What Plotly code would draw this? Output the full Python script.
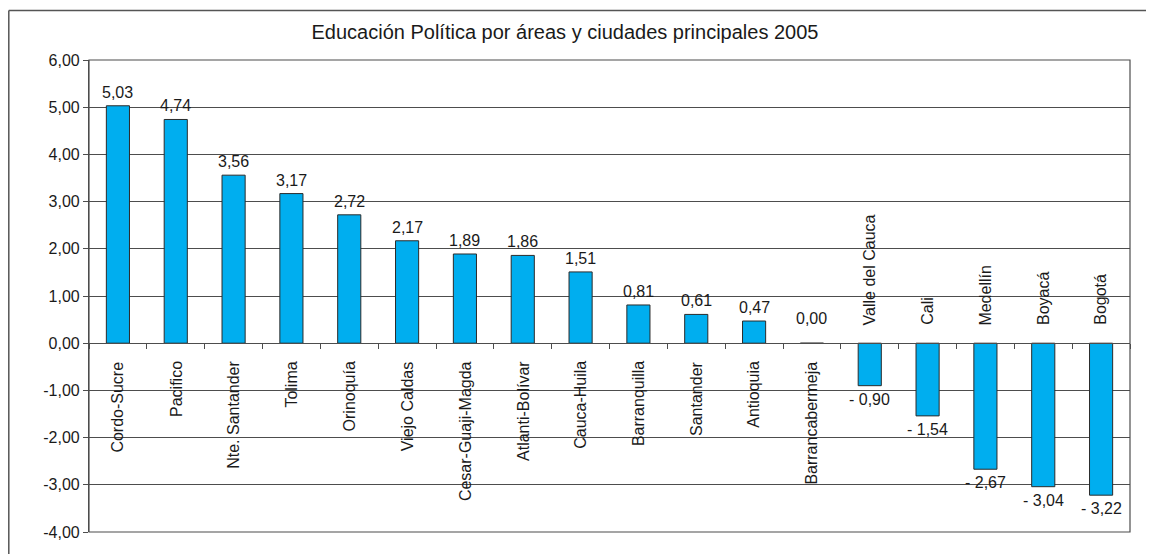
import plotly.graph_objects as go

categories = ["Cordo-Sucre", "Pacifico", "Nte. Santander", "Tolima", "Orinoquía",
              "Viejo Caldas", "Cesar-Guaji-Magda", "Atlanti-Bolívar", "Cauca-Huila",
              "Barranquilla", "Santander", "Antioquia", "Barrancabermeja",
              "Valle del Cauca", "Cali", "Medellín", "Boyacá", "Bogotá"]
values = [5.03, 4.74, 3.56, 3.17, 2.72, 2.17, 1.89, 1.86, 1.51, 0.81, 0.61, 0.47,
          0.00, -0.90, -1.54, -2.67, -3.04, -3.22]
y_ticks = [-4, -3, -2, -1, 0, 1, 2, 3, 4, 5, 6]
title = "Educación Política por áreas y ciudades principales 2005"

FONT = "Liberation Sans, Arial, sans-serif"
TXT = "#1a1a1a"
GRID = "#4d4d4d"
FS = 16


def fmt(v):
    s = f"{abs(v):.2f}".replace(".", ",")
    return ("- " + s) if v < 0 else s


def fmt_tick(v):
    s = f"{abs(v):.2f}".replace(".", ",")
    return ("-" + s) if v < 0 else s


fig = go.Figure()
fig.add_trace(go.Bar(
    x=categories, y=values,
    marker=dict(color="#00AEEF", line=dict(color="#2b2b2b", width=1)),
    hoverinfo="x+y",
))

annotations = []
for c, v in zip(categories, values):
    # value labels
    if v > 0:
        annotations.append(dict(x=c, y=v, text=fmt(v), showarrow=False,
                                yanchor="bottom", yshift=3,
                                font=dict(family=FONT, size=FS, color=TXT)))
    elif v == 0:
        annotations.append(dict(x=c, y=v, text=fmt(v), showarrow=False,
                                yanchor="bottom", yshift=14,
                                font=dict(family=FONT, size=FS, color=TXT)))
    else:
        annotations.append(dict(x=c, y=v, text=fmt(v), showarrow=False,
                                yanchor="top", yshift=-3,
                                font=dict(family=FONT, size=FS, color=TXT)))
    # category labels
    if v >= 0:
        annotations.append(dict(x=c, y=0, text=c, showarrow=False, textangle=-90,
                                yanchor="top", yshift=-16,
                                font=dict(family=FONT, size=FS, color=TXT)))
    else:
        annotations.append(dict(x=c, y=0, text=c, showarrow=False, textangle=-90,
                                yanchor="bottom", yshift=16,
                                font=dict(family=FONT, size=FS, color=TXT)))

# page has an 8px body margin, so the figure is offset by 8px
W, H = 1146, 546
ml, mt = 81, 52
mr, mb = 24, 22
pw, ph = W - ml - mr, H - mt - mb

bx = (0.8 - ml) / pw          # left edge of outer chart border (paper units)
by = 1 + (mt - 2.5) / ph      # top edge of outer chart border (paper units)

shapes = [
    # plot area frame
    dict(type="rect", xref="paper", yref="paper", x0=0, x1=1, y0=0, y1=1,
         line=dict(color=GRID, width=1.2), layer="above"),
    # outer chart border: only left and top edges are visible in the image
    dict(type="line", xref="paper", yref="paper",
         x0=bx, x1=bx, y0=-mb / ph, y1=by,
         line=dict(color="#555555", width=1.5), layer="below"),
    dict(type="line", xref="paper", yref="paper",
         x0=bx, x1=1 + mr / pw, y0=by, y1=by,
         line=dict(color="#555555", width=1.5), layer="below"),
]

fig.update_layout(
    width=W, height=H,
    margin=dict(l=ml, r=mr, t=mt, b=mb, autoexpand=False),
    paper_bgcolor="white", plot_bgcolor="white",
    separators=",.",
    bargap=0.6,
    showlegend=False,
    title=dict(text=title, x=557 / W, xref="container", xanchor="center",
               y=1 - 24 / H, yanchor="middle",
               font=dict(family=FONT, size=20, color=TXT)),
    font=dict(family=FONT, size=FS, color=TXT),
    annotations=annotations,
    shapes=shapes,
    xaxis=dict(
        type="category",
        showticklabels=False,
        showgrid=False,
        showline=True, linecolor=GRID, linewidth=1.2,
        ticks="outside", tickson="boundaries", ticklen=5, tickcolor=GRID,
        anchor="free", position=0.4,
        zeroline=False,
    ),
    yaxis=dict(
        range=[-4, 6],
        tickvals=y_ticks,
        ticktext=[fmt_tick(t) for t in y_ticks],
        showgrid=True, gridcolor=GRID, gridwidth=1,
        showline=True, linecolor=GRID, linewidth=1.2,
        ticks="outside", ticklen=5, tickcolor=GRID,
        zeroline=False,
        tickfont=dict(family=FONT, size=FS, color=TXT),
    ),
)

fig.write_html("out.html")
